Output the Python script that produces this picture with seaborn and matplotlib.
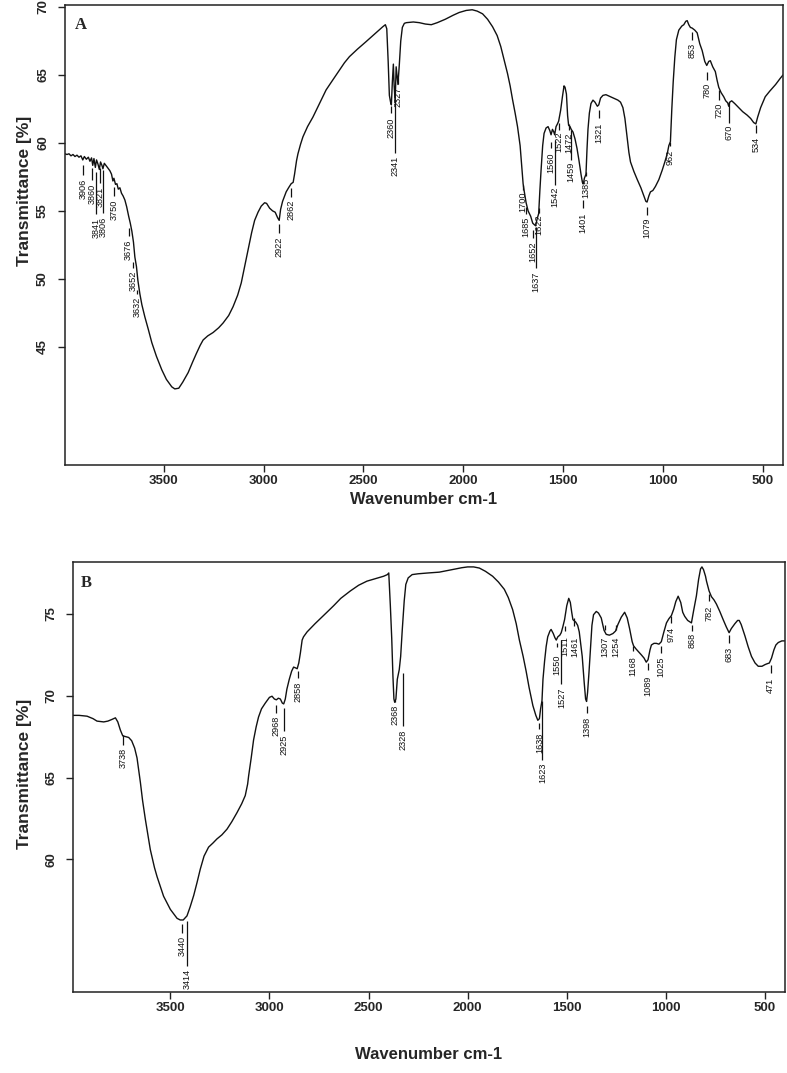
import numpy as np
import pandas as pd
import matplotlib
matplotlib.use("Agg")
import matplotlib.pyplot as plt
import seaborn as sns

# ---------------- data: panel A ----------------
a_wn = [3995, 3985, 3975, 3965, 3955, 3945, 3935, 3925, 3915, 3906, 3898, 3888, 3878, 3870, 3862,
        3856, 3850, 3843, 3837, 3830, 3823, 3817, 3810, 3805, 3798, 3790, 3780, 3770, 3762, 3755,
        3750, 3742, 3735, 3728, 3720, 3712, 3704, 3695, 3686, 3676, 3668, 3660, 3652, 3645, 3637,
        3630, 3620, 3610, 3595, 3578, 3560, 3537, 3510, 3487, 3460, 3445, 3425, 3405, 3378, 3355,
        3337, 3318, 3303, 3280, 3253, 3225, 3203, 3175, 3153, 3130, 3112, 3095, 3078, 3060, 3045,
        3028, 3012, 2995, 2985, 2970, 2955, 2942, 2930, 2922, 2915, 2905, 2887, 2875, 2862, 2852,
        2845, 2835, 2828, 2815, 2803, 2780, 2753, 2720, 2687, 2655, 2620, 2595, 2570, 2530, 2487,
        2445, 2403, 2390, 2383, 2376, 2370, 2364, 2360, 2355, 2350, 2346, 2341, 2336, 2332, 2327,
        2320, 2313, 2305, 2295, 2285, 2250, 2220, 2190, 2160, 2130, 2090, 2050, 2020, 1985, 1955,
        1930, 1903, 1878, 1853, 1830, 1812, 1795, 1778, 1765, 1753, 1740, 1728, 1715, 1708, 1700,
        1695, 1685, 1675, 1662, 1652, 1645, 1637, 1630, 1622, 1616, 1610, 1602, 1595, 1585, 1575,
        1566, 1560, 1553, 1546, 1542, 1535, 1528, 1522, 1512, 1503, 1495, 1490, 1483, 1477, 1472,
        1465, 1459, 1450, 1440, 1430, 1420, 1410, 1403, 1398, 1393, 1385, 1380, 1375, 1368, 1360,
        1350, 1340, 1328, 1321, 1312, 1300, 1285, 1270, 1255, 1240, 1225, 1212, 1200, 1190, 1178,
        1170, 1162, 1145, 1128, 1110, 1095, 1085, 1079, 1070, 1062, 1050, 1037, 1020, 1003, 990,
        978, 970, 962, 955, 948, 940, 932, 920, 905, 895, 885, 878, 870, 862, 853,
        840, 828, 815, 803, 790, 780, 770, 762, 750, 737, 728, 720, 708, 695, 685,
        675, 670, 665, 655, 640, 620, 600, 578, 560, 545, 534, 525, 510, 487, 465,
        453, 435, 412, 398]
a_t = [59.2, 59.15, 59.2, 59.05, 59.15, 59.0, 59.1, 58.95, 59.05, 58.75, 59.0, 58.8, 58.95, 58.65, 58.9,
       58.35, 58.85, 58.2, 58.75, 58.45, 58.05, 58.6, 58.35, 58.1, 58.5, 58.35, 58.15, 57.95, 57.7, 57.2,
       57.4, 56.95, 57.0, 56.6, 56.7, 56.3, 56.1, 55.8, 55.3, 54.6, 54.1, 53.5, 52.7, 51.6, 50.9,
       49.9, 48.9, 48.1, 47.2, 46.3, 45.3, 44.3, 43.3, 42.6, 42.05, 41.9, 41.95, 42.4, 43.1, 43.9,
       44.5, 45.1, 45.5, 45.8, 46.05, 46.4, 46.75, 47.3, 47.95, 48.8, 49.7, 50.9, 52.1, 53.4, 54.3,
       54.9, 55.35, 55.6, 55.55, 55.2, 55.0, 54.9, 54.5, 54.3, 55.1, 55.7, 56.4, 56.7, 57.0, 57.1,
       57.7, 58.7, 59.2, 59.9, 60.45, 61.2, 61.9, 62.9, 63.9, 64.6, 65.35, 65.9, 66.35, 66.9, 67.45,
       68.0, 68.55, 68.7, 68.4, 66.0, 63.5, 63.0, 62.8, 64.5, 65.8, 64.2, 63.0, 65.6, 65.0, 64.3,
       65.8, 67.5, 68.5, 68.8, 68.85, 68.9, 68.85, 68.75, 68.7, 68.85, 69.1, 69.4, 69.6, 69.75, 69.8,
       69.7, 69.5, 69.1, 68.55, 67.9, 67.1, 66.1, 65.1, 64.2, 63.2, 62.2, 61.2, 59.8, 58.5, 57.0,
       56.5, 55.6, 55.0, 54.6, 54.1, 54.0, 53.9, 54.4, 54.8, 56.5, 58.0, 59.8, 60.7, 61.1, 61.2,
       60.9, 60.6, 61.0, 60.8, 60.6, 61.2, 61.4, 61.6, 62.4, 63.4, 64.2, 64.1, 63.6, 62.0, 61.3,
       61.2, 61.0, 60.8, 60.3, 59.6, 58.7, 57.7, 57.1, 57.0, 57.4, 57.7, 59.5, 61.0, 62.2, 62.9,
       63.15, 63.0, 62.7, 62.8, 63.3, 63.5, 63.55, 63.45, 63.35, 63.25, 63.15, 63.0, 62.6, 61.8, 60.3,
       59.3, 58.6, 57.9, 57.3, 56.7, 56.1, 55.7, 55.65, 56.1, 56.4, 56.5, 56.8, 57.3, 58.0, 58.6,
       59.2, 59.8, 60.1, 62.5, 64.5, 66.3, 67.6, 68.3, 68.6, 68.7, 68.95, 69.0, 68.7, 68.5, 68.45,
       68.3, 68.1, 67.3, 66.8, 66.0, 65.7, 66.0, 66.05, 65.6, 65.25, 64.6, 64.1, 63.7, 63.4, 63.1,
       62.95, 62.7, 63.0, 63.1, 62.9, 62.6, 62.3, 62.05, 61.8, 61.5, 61.4, 61.9, 62.6, 63.4, 63.8,
       64.0, 64.3, 64.75, 65.0]

# peak labels panel A: value, dash top, dash bottom, text top (transmittance units)
a_peaks = [3906, 3860, 3841, 3821, 3806, 3750, 3676, 3652, 3632, 2922, 2862, 2360, 2341, 2327,
           1700, 1685, 1652, 1637, 1622, 1560, 1542, 1522, 1472, 1459, 1401, 1385, 1321, 1079,
           962, 853, 780, 720, 670, 534]
a_line_top = [58.38, 58.16, 57.87, 58.16, 58.01, 56.76, 53.75, 51.25, 49.19, 54.04, 56.69, 62.72, 63.16, 64.78,
              56.91, 55.29, 53.60, 53.82, 55.22, 60.07, 60.22, 61.47, 61.40, 60.96, 55.81, 57.87, 62.43, 55.29,
              60.07, 68.16, 65.22, 63.90, 63.01, 61.32]
a_line_bot = [57.65, 57.28, 54.78, 57.06, 54.85, 56.10, 53.16, 50.81, 48.90, 53.38, 56.03, 62.21, 59.26, 64.34,
              56.54, 54.78, 53.01, 50.81, 54.85, 59.63, 56.91, 60.96, 60.96, 58.75, 55.22, 57.57, 61.84, 54.71,
              59.78, 67.57, 64.63, 63.16, 61.47, 60.74]
a_text_top = [57.35, 56.99, 54.49, 56.76, 54.56, 55.81, 52.87, 50.59, 48.68, 53.09, 55.81, 61.84, 59.04, 64.12,
              56.40, 54.56, 52.72, 50.51, 54.71, 59.26, 56.76, 60.81, 60.74, 58.60, 54.85, 57.43, 61.47, 54.49,
              59.49, 67.35, 64.41, 62.94, 61.32, 60.44]

# ---------------- data: panel B ----------------
b_wn = [3991, 3960, 3920, 3890, 3870, 3836, 3815, 3795, 3777, 3765, 3752, 3740, 3725, 3710, 3695,
        3680, 3668, 3651, 3640, 3626, 3601, 3580, 3567, 3534, 3500, 3466, 3450, 3435, 3416, 3400,
        3382, 3365, 3349, 3330, 3307, 3285, 3265, 3240, 3214, 3190, 3164, 3140, 3122, 3110, 3105,
        3092, 3080, 3067, 3055, 3040, 3021, 3000, 2987, 2975, 2965, 2955, 2945, 2935, 2928, 2920,
        2912, 2900, 2888, 2878, 2868, 2860, 2852, 2844, 2835, 2828, 2810, 2794, 2770, 2744, 2710,
        2676, 2640, 2592, 2550, 2508, 2465, 2424, 2405, 2398, 2390, 2383, 2377, 2372, 2368, 2362,
        2355, 2345, 2338, 2330, 2320, 2312, 2300, 2280, 2250, 2200, 2143, 2100, 2059, 2030, 2000,
        1970, 1941, 1910, 1874, 1845, 1815, 1795, 1773, 1755, 1739, 1720, 1705, 1690, 1671, 1656,
        1646, 1638, 1632, 1625, 1620, 1612, 1604, 1596, 1585, 1579, 1568, 1560, 1553, 1545, 1535,
        1528, 1520, 1511, 1500, 1490, 1482, 1475, 1469, 1455, 1445, 1437, 1428, 1422, 1412, 1405,
        1400, 1395, 1388, 1380, 1373, 1365, 1351, 1340, 1326, 1312, 1301, 1285, 1267, 1254, 1242,
        1225, 1208, 1195, 1183, 1170, 1163, 1150, 1135, 1124, 1110, 1099, 1090, 1080, 1073, 1060,
        1048, 1035, 1023, 1010, 997, 985, 972, 960, 950, 938, 925, 915, 905, 890, 871,
        860, 846, 835, 825, 818, 810, 800, 795, 782, 770, 757, 745, 728, 711, 695,
        681, 670, 652, 638, 630, 620, 601, 585, 568, 550, 534, 515, 500, 490, 478,
        467, 455, 445, 433, 415, 399]
b_t = [68.8, 68.8, 68.75, 68.6, 68.45, 68.4, 68.45, 68.55, 68.65, 68.4, 67.9, 67.55, 67.5, 67.45, 67.25,
       66.8, 66.2, 64.7, 63.6, 62.45, 60.6, 59.5, 58.95, 57.75, 56.95, 56.4, 56.3, 56.3, 56.55, 57.1,
       57.8, 58.6, 59.4, 60.2, 60.75, 61.0, 61.25, 61.5, 61.85, 62.3, 62.85, 63.4, 63.9, 64.6, 65.1,
       66.2, 67.3, 68.1, 68.7, 69.2, 69.55, 69.9, 69.97, 69.8, 69.75, 69.85, 69.8, 69.55, 69.5, 69.8,
       70.4, 71.0, 71.5, 71.75, 71.7, 71.65, 72.0, 72.6, 73.4, 73.6, 73.9, 74.1, 74.4, 74.7, 75.1,
       75.5, 75.95, 76.4, 76.75, 77.0, 77.15, 77.3, 77.4, 77.5, 75.5, 73.5, 71.2, 69.8, 69.6, 69.8,
       71.0, 71.6, 72.4, 74.0, 75.8, 76.8, 77.2, 77.4, 77.45, 77.5, 77.55, 77.65, 77.75, 77.82, 77.87,
       77.87, 77.8, 77.6, 77.3, 76.95, 76.5, 76.0, 75.26, 74.4, 73.4, 72.4, 71.5, 70.5, 69.4, 68.8,
       68.5, 68.6, 69.2, 69.7, 71.0, 72.1, 73.0, 73.6, 73.95, 74.05, 73.8, 73.55, 73.4, 73.6, 73.7,
       73.85, 74.2, 74.65, 75.5, 75.95, 75.7, 75.1, 74.65, 74.5, 74.3, 73.9, 73.0, 72.4, 70.8, 69.8,
       69.65, 70.2, 71.4, 73.0, 74.3, 74.95, 75.15, 75.05, 74.75, 74.0, 73.75, 73.7, 73.8, 73.95, 74.35,
       74.8, 75.1, 74.75, 74.1, 73.3, 73.05, 72.85, 72.65, 72.5, 72.3, 72.05, 72.2, 72.8, 73.1, 73.2,
       73.2, 73.15, 73.3, 73.9, 74.45, 74.7, 74.9, 75.3, 75.75, 76.08, 75.7, 75.1, 74.85, 74.6, 74.45,
       75.2, 76.1, 77.1, 77.75, 77.87, 77.7, 77.3, 77.0, 76.4, 76.05, 75.85, 75.6, 75.15, 74.65, 74.2,
       73.85, 74.1, 74.4, 74.6, 74.6, 74.35, 73.65, 73.0, 72.4, 72.0, 71.8, 71.8, 71.9, 71.95, 72.0,
       72.3, 72.8, 73.1, 73.25, 73.35, 73.35]

b_peaks = [3738, 3440, 3414, 2968, 2925, 2858, 2368, 2328, 1638, 1623, 1550, 1527, 1511, 1461,
           1398, 1307, 1254, 1168, 1089, 1025, 974, 868, 782, 683, 471]
b_line_top = [67.63, 56.03, 56.24, 69.46, 69.26, 71.50, 69.75, 71.40, 68.35, 69.67, 73.23, 73.40, 74.25, 74.76,
              69.36, 74.35, 74.35, 73.03, 72.00, 73.03, 74.90, 74.35, 76.20, 73.70, 71.90]
b_line_bot = [67.02, 55.52, 53.49, 68.96, 67.84, 71.09, 69.60, 68.14, 67.94, 66.10, 72.95, 70.70, 73.94, 74.25,
              68.96, 74.04, 74.04, 72.72, 71.60, 72.62, 74.45, 73.94, 75.80, 73.20, 71.40]
b_text_top = [66.80, 55.30, 53.30, 68.80, 67.60, 70.85, 69.45, 67.95, 67.75, 65.90, 72.50, 70.50, 73.64, 73.64,
              68.70, 73.60, 73.60, 72.42, 71.20, 72.42, 74.20, 73.84, 75.50, 73.00, 71.10]

x_ticks = [3500, 3000, 2500, 2000, 1500, 1000, 500]
a_yticks = [45, 50, 55, 60, 65, 70]
b_yticks = [60, 65, 70, 75]

# ---------------- figure ----------------
sns.set_style("ticks")
plt.rcParams['font.family'] = ['Liberation Sans', 'DejaVu Sans']

fig = plt.figure(figsize=(7.87, 10.73), dpi=100)
ax_a = fig.add_axes([65 / 787, 1 - 465 / 1073, (783 - 65) / 787, (465 - 5) / 1073])
ax_b = fig.add_axes([73 / 787, 1 - 992 / 1073, (785 - 73) / 787, (992 - 562) / 1073])

panels = [
    (ax_a, a_wn, a_t, a_peaks, a_line_top, a_line_bot, a_text_top, a_yticks,
     (3995, 398), (36.3, 70.15), "A", (0.014, 0.974), (-0.046, 0.596), -0.058),
    (ax_b, b_wn, b_t, b_peaks, b_line_top, b_line_bot, b_text_top, b_yticks,
     (3991, 399), (51.9, 78.17), "B", (0.011, 0.970), (-0.0576, 0.507), -0.128),
]

label_font = dict(family=['Liberation Sans Narrow', 'Liberation Sans', 'DejaVu Sans'],
                  fontsize=6.6, rotation=90, ha='center', va='top', color='#111111')

for (ax, wn, t, peaks, ltop, lbot, ttop, yt, xl, yl, letter, lpos, ylpos, xly) in panels:
    df = pd.DataFrame({"Wavenumber": wn, "T": t})
    sns.lineplot(data=df, x="Wavenumber", y="T", ax=ax, sort=False, estimator=None,
                 color='#111111', linewidth=1.0)
    for p, y0, y1, y2 in zip(peaks, ltop, lbot, ttop):
        ax.plot([p, p], [y0, y1], color='#111111', linewidth=0.9, solid_capstyle='butt')
        ax.text(p, y2, str(p), **label_font)
    ax.set_xlim(*xl)
    ax.set_ylim(*yl)
    ax.set_xticks(x_ticks)
    ax.set_yticks(yt)
    ax.set_xticklabels([str(v) for v in x_ticks], fontsize=9.5, fontweight='bold')
    ax.set_yticklabels([str(v) for v in yt], fontsize=9.5, fontweight='bold')
    ax.tick_params(axis='both', direction='out', length=5, width=1.0, color='#222222')
    ax.tick_params(axis='x', pad=2.5)
    ax.tick_params(axis='y', pad=6.5, labelrotation=90)
    for lab in ax.get_yticklabels():
        lab.set_va('center')
    for s in ax.spines.values():
        s.set_visible(True)
        s.set_linewidth(1.1)
        s.set_color('#222222')
    ax.set_xlabel("Wavenumber cm-1", fontsize=12, fontweight='bold')
    ax.set_ylabel("Transmittance [%]", fontsize=12.5, fontweight='bold')
    ax.yaxis.set_label_coords(*ylpos)
    ax.xaxis.set_label_coords(0.5, xly)
    ax.text(lpos[0], lpos[1], letter, transform=ax.transAxes, ha='left', va='top',
            fontsize=12, fontweight='bold', family=['Liberation Serif', 'DejaVu Serif'])
    ax.grid(False)

fig.savefig("out.png", dpi=100)
